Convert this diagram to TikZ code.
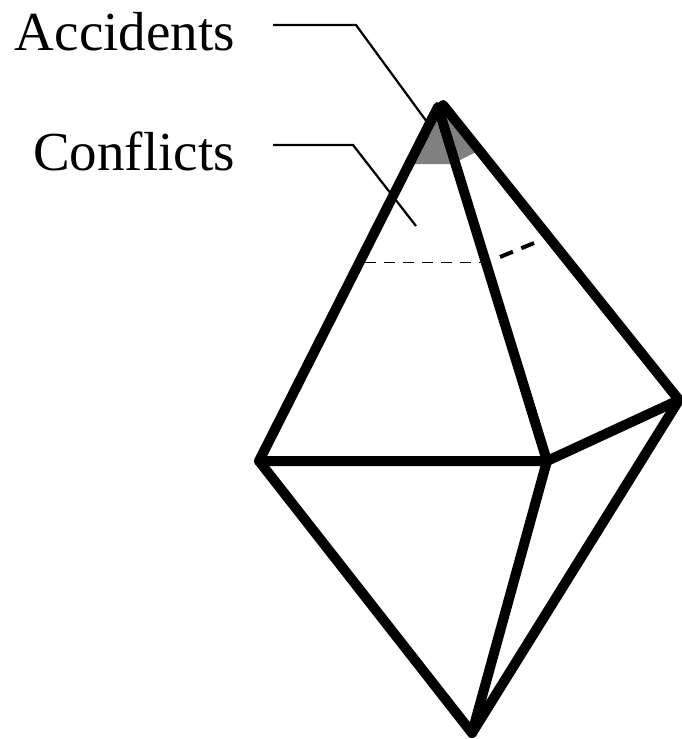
\documentclass[tikz,border=0pt]{standalone}
\usepackage{fontspec}
\setmainfont{Liberation Serif}
\usepackage{xcolor}
\definecolor{tipgray}{HTML}{808080}
\begin{document}
\begin{tikzpicture}[x=1pt, y=-1pt,
    edge/.style={draw=black, line width=10pt, line cap=round, line join=round},
    leader/.style={draw=black, line width=2.2pt},
    label/.style={font=\fontsize{55}{60}\selectfont, anchor=base east, inner sep=0pt}]
    \useasboundingbox (0,0) rectangle (682,739);
    % vertices
    \coordinate (apex) at (438,107);
    \coordinate (apexb) at (443,105);
    \coordinate (left) at (259,461);
    \coordinate (mid) at (547,461);
    \coordinate (right) at (679,400);
    \coordinate (bottom) at (472,733);
    % shaded tip
    \coordinate (tipa) at (414,164);
    \coordinate (tipb) at (452,164);
    \coordinate (tipc) at (476,152);
    \fill[tipgray] (apex) -- (tipa) -- (tipb) -- (tipc) -- cycle;
    % labels and leaders
    \node[label] (accidents) at (235,50) {Accidents};
    \node[label] (conflicts) at (235,170) {Conflicts};
    \coordinate (accstart) at (273,25);
    \coordinate (accbend) at (356,25);
    \coordinate (accend) at (427,122);
    \coordinate (constart) at (273,145);
    \coordinate (conbend) at (353,145);
    \coordinate (conend) at (416,226);
    \draw[leader] (accstart) -- (accbend) -- (accend);
    \draw[leader] (constart) -- (conbend) -- (conend);
    % hidden section
    \coordinate (dasha) at (365,262);
    \coordinate (dashb) at (500,257);
    \coordinate (dashc) at (534,243);
    \draw[line width=1pt, dash pattern=on 11pt off 8pt] (dasha) -- (495,262);
    \draw[line width=4pt, dash pattern=on 14pt off 9pt] (dashb) -- (dashc);
    % edges
    \draw[edge] (apex) -- (left) -- (mid) -- (apex);
    \draw[edge] (apexb) -- (right) -- (mid);
    \draw[edge] (left) -- (bottom) -- (mid);
    \draw[edge] (bottom) -- (right);
  \end{tikzpicture}
\end{document}
